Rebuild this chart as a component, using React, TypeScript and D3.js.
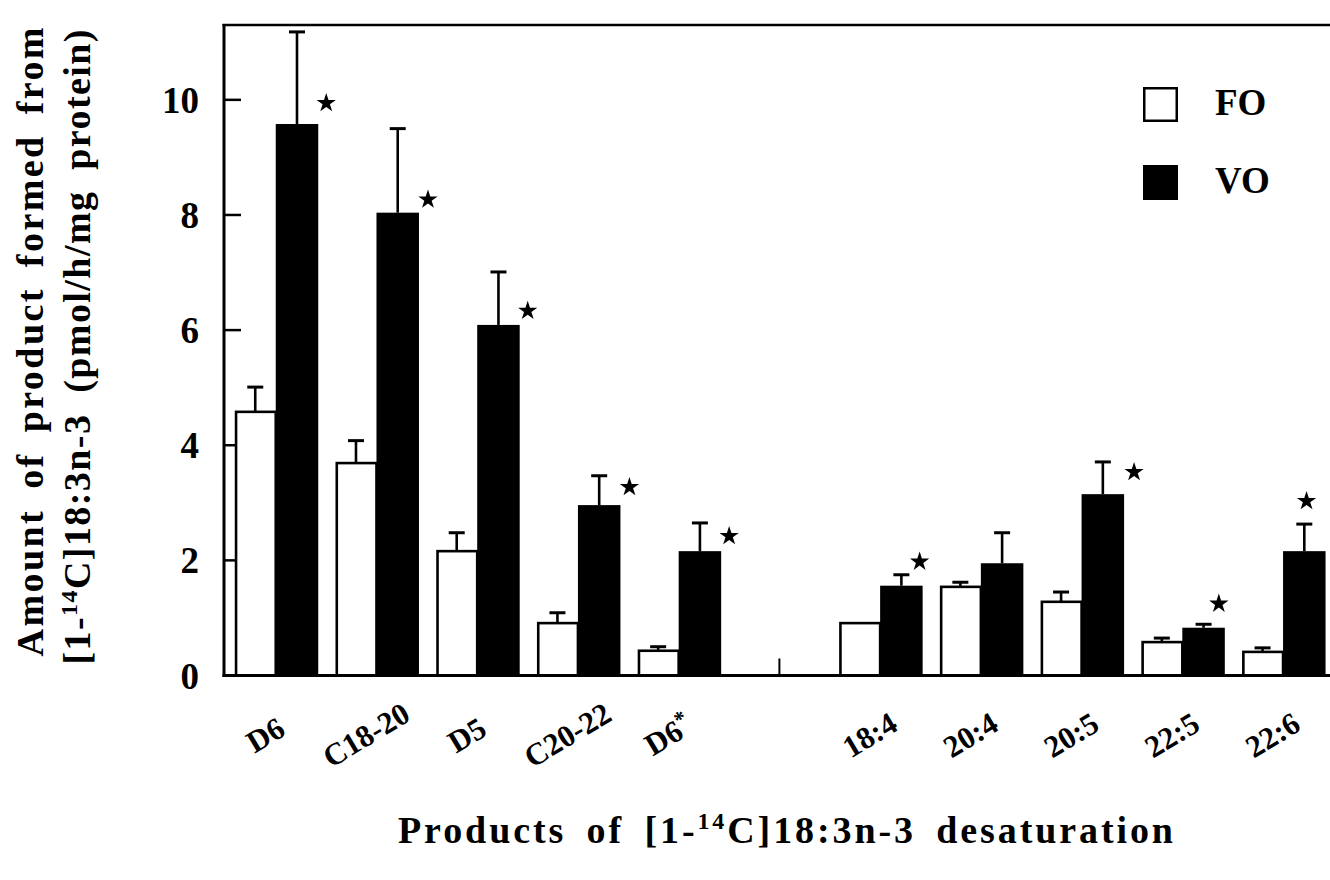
import React from "react";
import * as d3 from "d3";

// ---- data ----
const categories = ["D6", "C18-20", "D5", "C20-22", "D6*", "18:4", "20:4", "20:5", "22:5", "22:6"];
const gapAfter = 5; // blank slot between the two groups of categories
const foMean = [4.58, 3.69, 2.16, 0.91, 0.43, 0.91, 1.54, 1.28, 0.58, 0.41];
const foSem = [0.43, 0.39, 0.32, 0.18, 0.07, 0, 0.08, 0.17, 0.07, 0.07];
const voMean = [9.58, 8.04, 6.09, 2.96, 2.16, 1.56, 1.95, 3.15, 0.83, 2.16];
const voSem = [1.6, 1.46, 0.92, 0.51, 0.49, 0.19, 0.53, 0.56, 0.06, 0.47];
const voSignificant = [true, true, true, true, true, true, false, true, true, true];
const yTicks = [0, 2, 4, 6, 8, 10];
const seriesNames = ["FO", "VO"];

// ---- layout ----
const W = 1330;
const H = 880;
const FONT = "'Liberation Serif', 'Times New Roman', serif";
const X0 = 224;
const XR = 1330;
const Y_TOP = 25;
const Y_BASE = 675.5;
// small hand-placement nudges for the significance stars (dx from VO bar right edge, dy from VO bar top)
const starNudge: [number, number][] = [
  [8, -21], [9, -13], [8, -14], [9, -18], [8, -15],
  [-3, -24], [0, 0], [10, -22], [-6, -24], [-19, -50],
];

export default function App() {
  const slots = [...categories.slice(0, gapAfter), "__gap__", ...categories.slice(gapAfter)];
  const x = d3.scaleBand<string>().domain(slots).range([234.75, 1324.05]).paddingInner(0.186).paddingOuter(0);
  const xs = d3.scaleBand<string>().domain(seriesNames).range([0, x.bandwidth()]);
  const y = d3.scaleLinear().domain([0, 11.3]).range([Y_BASE, Y_TOP]);
  const star = d3.symbol().type(d3.symbolStar).size(115)() as string;

  const bw = xs.bandwidth();
  const lw = 2.6;

  return (
    <svg
      width={W}
      height={H}
      style={{ position: "absolute", left: 0, top: 0, background: "#fff" }}
      fontFamily={FONT}
    >
      <rect x={0} y={0} width={W} height={H} fill="#fff" />

      {/* y ticks (inward) */}
      {yTicks.map((t) => (
        <g key={"yt" + t}>
          <line x1={X0} x2={X0 + 17} y1={y(t)} y2={y(t)} stroke="#000" strokeWidth={2.5} />
          <text x={199} y={y(t) + 13} textAnchor="end" fontSize={37} fontWeight="bold">
            {t}
          </text>
        </g>
      ))}

      {/* x ticks (inward, at slot centres) */}
      {slots.map((s) => (
        <line
          key={"xt" + s}
          x1={(x(s) as number) + x.bandwidth() / 2}
          x2={(x(s) as number) + x.bandwidth() / 2}
          y1={Y_BASE}
          y2={Y_BASE - 17}
          stroke="#000"
          strokeWidth={2}
        />
      ))}

      {/* bars */}
      {categories.map((c, i) => {
        const bx = x(c) as number;
        const fx = bx + (xs("FO") as number);
        const vx = bx + (xs("VO") as number);
        const fy = y(foMean[i]);
        const vy = y(voMean[i]);
        const fe = y(foMean[i] + foSem[i]);
        const ve = y(voMean[i] + voSem[i]);
        const [sdx, sdy] = starNudge[i];
        return (
          <g key={"b" + c}>
            <rect
              x={fx + lw / 2}
              y={fy}
              width={bw - lw / 2}
              height={Y_BASE - fy}
              fill="#fff"
              stroke="#000"
              strokeWidth={lw}
            />
            {foSem[i] > 0 && (
              <g stroke="#000" strokeWidth={2.6}>
                <line x1={fx + bw / 2} x2={fx + bw / 2} y1={fy} y2={fe} />
                <line x1={fx + bw / 2 - 8} x2={fx + bw / 2 + 8} y1={fe} y2={fe} strokeWidth={3} />
              </g>
            )}
            <rect x={vx} y={vy} width={bw + 1.5} height={Y_BASE - vy} fill="#000" />
            {voSem[i] > 0 && (
              <g stroke="#000" strokeWidth={2.6}>
                <line x1={vx + bw / 2 + 0.75} x2={vx + bw / 2 + 0.75} y1={vy} y2={ve} />
                <line x1={vx + bw / 2 - 7.25} x2={vx + bw / 2 + 8.75} y1={ve} y2={ve} strokeWidth={3} />
              </g>
            )}
            {voSignificant[i] && (
              <path d={star} transform={`translate(${vx + bw + 1.5 + sdx},${vy + sdy})`} fill="#000" />
            )}
          </g>
        );
      })}

      {/* frame */}
      <line x1={X0} x2={X0} y1={Y_TOP - 1} y2={Y_BASE + 1.5} stroke="#000" strokeWidth={3} />
      <line x1={X0 - 1.5} x2={XR} y1={Y_TOP} y2={Y_TOP} stroke="#000" strokeWidth={2.5} />
      <line x1={X0 - 1.5} x2={XR} y1={Y_BASE} y2={Y_BASE} stroke="#000" strokeWidth={3} />

      {/* x tick labels */}
      {categories.map((c) => {
        const cx = (x(c) as number) + x.bandwidth() / 2;
        const base = c.endsWith("*") ? c.slice(0, -1) : c;
        return (
          <text
            key={"xl" + c}
            transform={`translate(${cx - 5},${744}) rotate(-31)`}
            textAnchor="middle"
            fontSize={31}
            fontWeight="bold"
          >
            {base}
            {c.endsWith("*") && (
              <tspan dy={-11} fontSize={22}>
                *
              </tspan>
            )}
          </text>
        );
      })}

      {/* legend */}
      <rect x={1144.25} y={88.25} width={32.5} height={32.5} fill="#fff" stroke="#000" strokeWidth={2.5} />
      <text x={1215} y={115} fontSize={37} fontWeight="bold">
        {seriesNames[0]}
      </text>
      <rect x={1143} y={165} width={35} height={35} fill="#000" />
      <text x={1215} y={193} fontSize={37} fontWeight="bold">
        {seriesNames[1]}
      </text>

      {/* y axis title */}
      <text
        transform="translate(43,342) rotate(-90)"
        textAnchor="middle"
        fontSize={38}
        fontWeight="bold"
        wordSpacing={8}
        textLength={629}
        lengthAdjust="spacing"
      >
        Amount of product formed from
      </text>
      <text
        transform="translate(90,347) rotate(-90)"
        textAnchor="middle"
        fontSize={38}
        fontWeight="bold"
        wordSpacing={10}
        textLength={635}
        lengthAdjust="spacing"
      >
        [1-<tspan dy={-13} fontSize={24}>14</tspan>
        <tspan dy={13}>C]18:3n-3 (pmol/h/mg protein)</tspan>
      </text>

      {/* x axis title */}
      <text
        x={785.5}
        y={843}
        textAnchor="middle"
        fontSize={38}
        fontWeight="bold"
        wordSpacing={8}
        textLength={775}
        lengthAdjust="spacing"
      >
        Products of [1-<tspan dy={-14} fontSize={24}>14</tspan>
        <tspan dy={14}>C]18:3n-3 desaturation</tspan>
      </text>
    </svg>
  );
}
